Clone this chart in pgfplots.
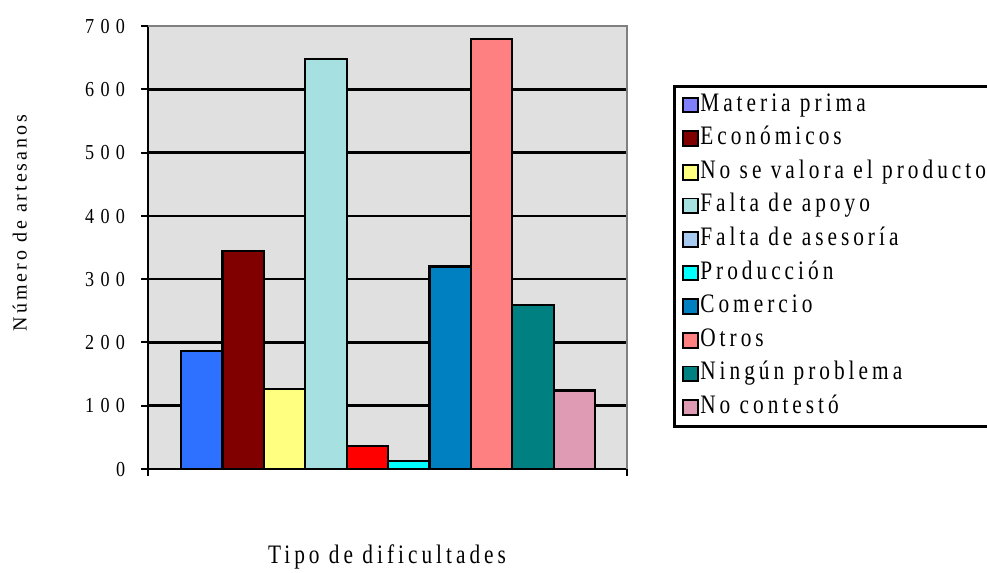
\documentclass[border=0pt]{standalone}
\usepackage{fontspec}
\usepackage{pgfplots}
\pgfplotsset{compat=1.18}
\newfontfamily\tickfont[LetterSpace=30,FakeStretch=0.85]{Liberation Serif}
\newfontfamily\spfont[LetterSpace=15,FakeStretch=0.8]{Liberation Serif}
\newfontfamily\ylabfont[LetterSpace=15]{Liberation Serif}
\definecolor{bggray}{RGB}{224,224,224}
\definecolor{bordergray}{RGB}{128,128,128}
% bar colours
\definecolor{b1}{RGB}{46,112,255}
\definecolor{b2}{RGB}{128,0,0}
\definecolor{b3}{RGB}{255,255,128}
\definecolor{b4}{RGB}{166,224,224}
\definecolor{b5}{RGB}{255,0,0}
\definecolor{b6}{RGB}{0,255,255}
\definecolor{b7}{RGB}{0,128,192}
\definecolor{b8}{RGB}{255,128,128}
\definecolor{b9}{RGB}{0,128,128}
\definecolor{b10}{RGB}{223,155,180}
% legend colours
\definecolor{l1}{RGB}{128,128,255}
\definecolor{l5}{RGB}{166,202,240}
\pgfplotsset{sqlegend/.style={legend image code/.code={\draw[##1] (0pt,-5.5pt) rectangle (11pt,5.5pt);}}}
\begin{document}
\begin{tikzpicture}
\useasboundingbox (0,0) rectangle (740.25pt,429pt);
\begin{axis}[
  at={(111pt,77.25pt)}, anchor=south west,
  scale only axis, width=359.25pt, height=332.25pt,
  xmin=-0.3, xmax=11.27, ymin=0, ymax=700,
  enlargelimits=false,
  axis x line*=bottom, axis y line*=left,
  xtick={-0.3,11.27}, xticklabels={},
  ytick={0,100,200,300,400,500,600,700},
  yticklabels={},
  extra y ticks={100,200,...,600},
  extra y tick style={ymajorgrids=true, yticklabel={}},
  grid style={black,line width=2pt},
  tick align=outside,
  major tick length=5pt,
  tick style={black,line width=1.6pt},
  axis line style={black,line width=1.8pt},
  axis background/.style={fill=bggray},
  legend style={at={(axis description cs:1.096,0.867)}, anchor=north west,
    draw=black, line width=2.2pt, fill=white,
    font=\spfont\fontsize{20}{22}\selectfont, row sep=5.2pt,
    inner xsep=6pt, inner ysep=4pt,
    nodes={inner sep=1pt, text height=13.5pt, text depth=4.5pt},
    /tikz/every even column/.append style={column sep=6.5pt}},
  legend cell align=left,
  after end axis/.code={\draw[bordergray,line width=1.5pt] (rel axis cs:0,1) -- (rel axis cs:1,1) -- (rel axis cs:1,0);},
]
\addplot[ybar, bar width=1, bar shift=0pt, fill=b1, draw=black, line width=1.6pt, forget plot] coordinates {(1,187)};
\addplot[ybar, bar width=1, bar shift=0pt, fill=b2, draw=black, line width=1.6pt, forget plot] coordinates {(2,344)};
\addplot[ybar, bar width=1, bar shift=0pt, fill=b3, draw=black, line width=1.6pt, forget plot] coordinates {(3,126)};
\addplot[ybar, bar width=1, bar shift=0pt, fill=b4, draw=black, line width=1.6pt, forget plot] coordinates {(4,648)};
\addplot[ybar, bar width=1, bar shift=0pt, fill=b5, draw=black, line width=1.6pt, forget plot] coordinates {(5,37)};
\addplot[ybar, bar width=1, bar shift=0pt, fill=b6, draw=black, line width=1.6pt, forget plot] coordinates {(6,12)};
\addplot[ybar, bar width=1, bar shift=0pt, fill=b7, draw=black, line width=1.6pt, forget plot] coordinates {(7,320)};
\addplot[ybar, bar width=1, bar shift=0pt, fill=b8, draw=black, line width=1.6pt, forget plot] coordinates {(8,680)};
\addplot[ybar, bar width=1, bar shift=0pt, fill=b9, draw=black, line width=1.6pt, forget plot] coordinates {(9,259)};
\addplot[ybar, bar width=1, bar shift=0pt, fill=b10, draw=black, line width=1.6pt, forget plot] coordinates {(10,124)};
\addlegendimage{sqlegend, fill=l1, draw=black, line width=1.4pt}
\addlegendentry{Materia prima}
\addlegendimage{sqlegend, fill=b2, draw=black, line width=1.4pt}
\addlegendentry{Económicos}
\addlegendimage{sqlegend, fill=b3, draw=black, line width=1.4pt}
\addlegendentry{No se valora el producto}
\addlegendimage{sqlegend, fill=b4, draw=black, line width=1.4pt}
\addlegendentry{Falta de apoyo}
\addlegendimage{sqlegend, fill=l5, draw=black, line width=1.4pt}
\addlegendentry{Falta de asesoría}
\addlegendimage{sqlegend, fill=b6, draw=black, line width=1.4pt}
\addlegendentry{Producción}
\addlegendimage{sqlegend, fill=b7, draw=black, line width=1.4pt}
\addlegendentry{Comercio}
\addlegendimage{sqlegend, fill=b8, draw=black, line width=1.4pt}
\addlegendentry{Otros}
\addlegendimage{sqlegend, fill=b9, draw=black, line width=1.4pt}
\addlegendentry{Ningún problema}
\addlegendimage{sqlegend, fill=b10, draw=black, line width=1.4pt}
\addlegendentry{No contestó}
\end{axis}
\foreach \v/\yy in {0/77.25,100/124.71,200/172.18,300/219.64,400/267.11,500/314.57,600/362.04,700/409.5}{
  \node[anchor=base east, inner sep=0pt] at ({94pt},{\yy pt-5.4pt}) {\tickfont\fontsize{16}{16}\selectfont \v};
}
\node[anchor=base] at (290.25pt,6.75pt) {\spfont\fontsize{20}{22}\selectfont Tipo de dificultades};
\node[rotate=90, anchor=base] at (19.9pt,261.75pt) {\ylabfont\fontsize{15}{15}\selectfont Número de artesanos};
\end{tikzpicture}
\end{document}
